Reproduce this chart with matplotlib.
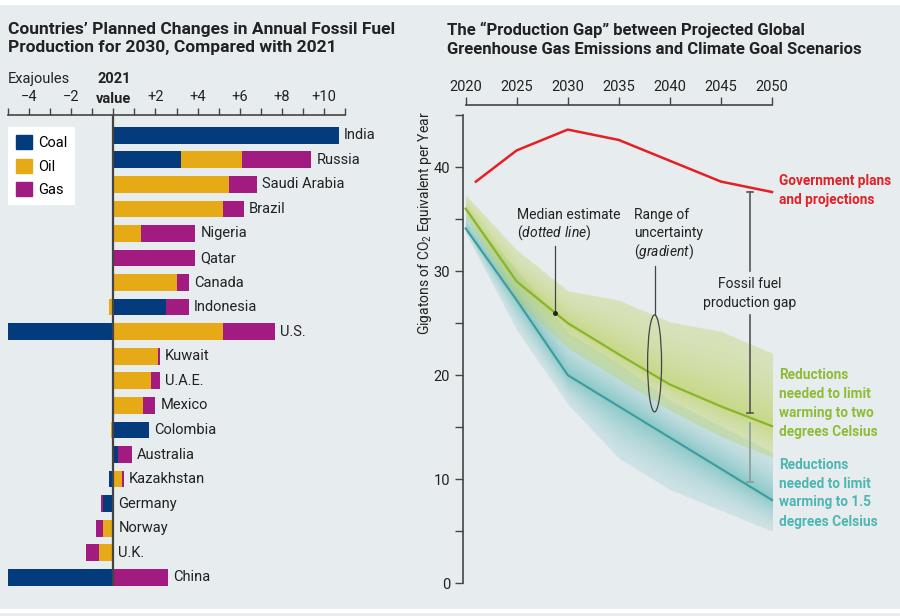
import numpy as np
import matplotlib
matplotlib.use('Agg')
import matplotlib.pyplot as plt
from matplotlib.patches import Ellipse, Rectangle, Patch
from matplotlib.ticker import MultipleLocator, FixedLocator
from matplotlib.colors import to_rgb

plt.rcParams['font.family'] = ['Roboto', 'DejaVu Sans']
plt.rcParams['mathtext.fontset'] = 'custom'
plt.rcParams['mathtext.rm'] = 'Roboto'
plt.rcParams['mathtext.it'] = 'Roboto:italic'

# ---- left panel data (exajoules, change 2021 -> 2030) ----
countries = ['India', 'Russia', 'Saudi Arabia', 'Brazil', 'Nigeria', 'Qatar', 'Canada',
             'Indonesia', 'U.S.', 'Kuwait', 'U.A.E.', 'Mexico', 'Colombia', 'Australia',
             'Kazakhstan', 'Germany', 'Norway', 'U.K.', 'China']
coal = [10.7, 3.2, 0, 0, 0, 0, 0, 2.5, -5.1, 0, 0, 0, 1.7, 0.2, -0.2, -0.5, 0, 0, -5.3]
oil  = [0, 2.9, 5.5, 5.2, 1.3, 0, 3.0, -0.2, 5.2, 2.1, 1.8, 1.4, -0.1, 0, 0.4, 0, -0.5, -0.7, 0]
gas  = [0, 3.3, 1.3, 1.0, 2.6, 3.9, 0.6, 1.1, 2.5, 0.1, 0.4, 0.6, 0, 0.7, 0.1, -0.1, -0.3, -0.6, 2.6]
fuel_names = ['Coal', 'Oil', 'Gas']
fuel_colors = ['#043b7c', '#e7aa17', '#a21b80']

# ---- right panel data (Gt CO2e per year) ----
years = [2020, 2025, 2030, 2035, 2040, 2045, 2050]
gov_years = [2021, 2025, 2030, 2035, 2040, 2045, 2050]
gov = [38.6, 41.6, 43.6, 42.6, 40.6, 38.6, 37.6]
two_med = [36.0, 29.0, 25.0, 22.0, 19.1, 17.0, 15.1]
two_hi = [37.2, 31.9, 28.0, 27.1, 25.0, 24.1, 22.0]
two_lo = [35.0, 27.0, 22.5, 19.5, 16.5, 14.0, 12.0]
one5_med = [34.1, 27.2, 20.0, 17.0, 14.0, 11.0, 8.0]
one5_hi = [35.5, 30.0, 24.0, 21.0, 17.5, 15.0, 12.5]
one5_lo = [33.5, 24.2, 17.1, 11.9, 8.9, 6.9, 4.9]

BG = '#e7ecef'
INK = '#222222'
RED = '#e41f26'
GREEN = '#8ab52b'
GREEN_TXT = '#8dbd35'
TEAL = '#3d9c9c'
TEAL_TXT = '#4db6b2'
FS = 10

W, H = 900, 616
fig = plt.figure(figsize=(9, 6.16), dpi=100, facecolor=BG)


def px(x, y):
    return x / W, 1 - y / H


def rect(l, t, r, b):
    return [l / W, 1 - b / H, (r - l) / W, (b - t) / H]


# white strips at top and bottom
fig.patches.append(Rectangle((0, 1 - 4 / H), 1, 4 / H, transform=fig.transFigure, color='white', zorder=0))
fig.patches.append(Rectangle((0, 1 - 612 / H), 1, 3 / H, transform=fig.transFigure, color='white', zorder=0))

# ================= left panel =================
ax1 = fig.add_axes(rect(8, 115, 345, 586))
ax1.set_facecolor('none')
n = len(countries)
ypos = np.arange(n)
pos_base = np.zeros(n)
neg_base = np.zeros(n)
for vals, name, col in zip([coal, oil, gas], fuel_names, fuel_colors):
    v = np.array(vals, dtype=float)
    left = np.where(v >= 0, pos_base, neg_base)
    ax1.barh(ypos, v, left=left, height=0.68, color=col, label=name, zorder=2)
    pos_base += np.where(v > 0, v, 0)
    neg_base += np.where(v < 0, v, 0)

for i, c in enumerate(countries):
    ax1.annotate(c, (pos_base[i], i), xytext=(5, 0), textcoords='offset pixels',
                 va='center', ha='left', fontsize=FS + 0.5, color=INK, zorder=3)

ax1.axvline(0, color='#444444', lw=1.6, zorder=4)
ax1.set_xlim(-5, 11)
ax1.set_ylim(18.35, -0.82)
for s in ['left', 'right', 'bottom']:
    ax1.spines[s].set_visible(False)
ax1.spines['top'].set_color('#444444')
ax1.spines['top'].set_linewidth(1.2)
ax1.xaxis.tick_top()
ax1.set_xticks([-4, -2, 0, 2, 4, 6, 8, 10])
ax1.set_xticklabels(['\u22124', '\u22122', '', '+2', '+4', '+6', '+8', '+10'])
ax1.xaxis.set_minor_locator(MultipleLocator(1))
ax1.tick_params(axis='x', which='major', length=5, width=1, color='#444444',
                labelsize=FS + 0.5, labelcolor=INK, pad=3)
ax1.tick_params(axis='x', which='minor', length=5, width=1, color='#444444')
ax1.set_yticks([])

fig.text(*px(8, 79), 'Exajoules', fontsize=FS + 0.5, color=INK, va='center', ha='left')
fig.text(*px(114, 79), '2021', fontsize=FS + 0.5, color=INK, va='center', ha='center', weight='bold')
fig.text(*px(114, 99), 'value', fontsize=FS + 0.5, color=INK, va='center', ha='center', weight='bold')

handles = [Patch(color=c, label=nm) for c, nm in zip(fuel_colors, fuel_names)]
leg = fig.legend(handles=handles, loc='upper left', bbox_to_anchor=px(8, 127),
                 frameon=True, fancybox=False, facecolor='white', edgecolor='none',
                 fontsize=FS + 0.5, handlelength=1.1, handleheight=1.1, handletextpad=0.4,
                 labelspacing=0.6, borderpad=0.55, borderaxespad=0)
leg.get_frame().set_alpha(1)

fig.text(*px(8, 22), 'Countries\u2019 Planned Changes in Annual Fossil Fuel\nProduction for 2030, Compared with 2021',
         fontsize=12.5, weight='bold', color=INK, va='top', ha='left', linespacing=1.25)

# ================= right panel =================
ax2 = fig.add_axes(rect(462.7, 115, 775, 583.3))
ax2.set_facecolor('none')


def gradient_band(ax, x, med, hi, lo, color, a_edge=0.22, a_mid=0.6):
    gx = np.linspace(x[0], x[-1], 400)
    gy = np.linspace(0, 45, 700)
    m = np.interp(gx, x, med)
    h = np.interp(gx, x, hi)
    l = np.interp(gx, x, lo)
    Y = gy[:, None]
    frac = np.where(Y >= m, (Y - m) / (h - m), (m - Y) / (m - l))
    alpha = np.where(frac <= 1, a_edge + (a_mid - a_edge) * (1 - np.clip(frac, 0, 1)) ** 1.5, 0)
    img = np.zeros((len(gy), len(gx), 4))
    img[..., :3] = to_rgb(color)
    img[..., 3] = alpha
    ax.imshow(img, extent=(x[0], x[-1], 0, 45), origin='lower', aspect='auto',
              interpolation='bilinear', zorder=1)


gradient_band(ax2, years, one5_med, one5_hi, one5_lo, '#5bb5b5', 0.18, 0.65)
gradient_band(ax2, years, two_med, two_hi, two_lo, '#b2cc45', 0.3, 0.6)
ax2.set_xlim(2019.71, 2050.29)
ax2.set_ylim(0, 45)
ax2.plot(years, one5_med, color=TEAL, lw=1.5, zorder=3)
ax2.plot(years, two_med, color=GREEN, lw=1.6, zorder=3)
ax2.plot(gov_years, gov, color=RED, lw=1.8, zorder=3)

for s in ['right', 'bottom']:
    ax2.spines[s].set_visible(False)
for s in ['top', 'left']:
    ax2.spines[s].set_color('#444444')
    ax2.spines[s].set_linewidth(1.2)
ax2.spines['top'].set_position(('outward', 7))
ax2.spines['top'].set_bounds(2020, 2050)
ax2.spines['left'].set_bounds(0, 45)
ax2.xaxis.tick_top()
ax2.set_xticks(years)
ax2.set_xticklabels([str(y) for y in years])
ax2.tick_params(axis='x', length=6, width=1, color='#444444', labelsize=FS + 0.5, labelcolor=INK, pad=2)
ax2.yaxis.set_major_locator(FixedLocator([0, 10, 20, 30, 40]))
ax2.yaxis.set_minor_locator(FixedLocator([5, 15, 25, 35, 45]))
ax2.tick_params(axis='y', which='both', length=6, width=1, color='#444444', labelsize=FS + 0.5,
                labelcolor=INK, pad=3)

fig.text(*px(425, 223), 'Gigatons of CO$_2$ Equivalent per Year', rotation=90, fontsize=FS,
         color=INK, va='center', ha='center')

fig.text(*px(447, 22), 'The \u201cProduction Gap\u201d between Projected Global\nGreenhouse Gas Emissions and Climate Goal Scenarios',
         fontsize=12, weight='bold', color=INK, va='top', ha='left', linespacing=1.3)


def dx(p):
    return 2020 + (p - 465.7) / 10.25


def dy(p):
    return (583.3 - p) / 10.4


# median estimate pointer
ax2.text(dx(517), dy(215), 'Median estimate', fontsize=FS, color=INK, va='center', ha='left')
ax2.text(dx(517), dy(233), r'($\it{dotted\ line}$)', fontsize=FS, color=INK, va='center', ha='left')
ax2.plot([dx(555), dx(555)], [dy(246.7), dy(312.7)], color='#444444', lw=0.9, zorder=4)
ax2.plot([dx(555)], [dy(312.7)], 'o', color='#222222', ms=2.5, zorder=5)

# range of uncertainty pointer
for t, yy in zip(['Range of', 'uncertainty', r'($\it{gradient}$)'], [215, 233.5, 252]):
    ax2.text(dx(635), dy(yy), t, fontsize=FS, color=INK, va='center', ha='left')
ax2.plot([dx(655.3), dx(655.3)], [dy(266.7), dy(315)], color='#444444', lw=0.9, zorder=4)
ax2.add_patch(Ellipse((dx(655.3), dy(363.5)), 14 / 10.25, 97 / 10.4, fc='none',
                      ec='#444444', lw=0.9, zorder=4))

# production gap bracket
gx = dx(750.7)
cap = 3 / 10.25
ax2.plot([gx, gx], [dy(192.7), dy(271)], color='#555555', lw=1.2, zorder=4)
ax2.plot([gx, gx], [dy(315), dy(413.3)], color='#555555', lw=1.2, zorder=4)
ax2.plot([gx - cap, gx + cap], [dy(192.7)] * 2, color='#555555', lw=1.2, zorder=4)
ax2.plot([gx - cap, gx + cap], [dy(413.3)] * 2, color='#555555', lw=1.2, zorder=4)
ax2.plot([gx, gx], [dy(423), dy(481.7)], color='#8a9a9a', lw=1.2, zorder=4)
ax2.plot([gx - cap, gx + cap], [dy(481.7)] * 2, color='#8a9a9a', lw=1.2, zorder=4)
ax2.text(gx, dy(284), 'Fossil fuel', fontsize=FS, color=INK, va='center', ha='center')
ax2.text(gx, dy(303), 'production gap', fontsize=FS, color=INK, va='center', ha='center')

# series labels
LFS = 9.8
for t, yy in zip(['Government plans', 'and projections'], [181, 200]):
    fig.text(*px(779, yy), t, fontsize=LFS, color=RED, va='center', ha='left', weight='bold')
for t, yy in zip(['Reductions', 'needed to limit', 'warming to two', 'degrees Celsius'],
                 [375, 393.5, 413, 431.7]):
    fig.text(*px(779, yy), t, fontsize=LFS, color=GREEN_TXT, va='center', ha='left', weight='bold')
for t, yy in zip(['Reductions', 'needed to limit', 'warming to 1.5', 'degrees Celsius'],
                 [465, 483.5, 502.3, 521.7]):
    fig.text(*px(779, yy), t, fontsize=LFS, color=TEAL_TXT, va='center', ha='left', weight='bold')

fig.savefig('out.png', dpi=100, facecolor=BG)
